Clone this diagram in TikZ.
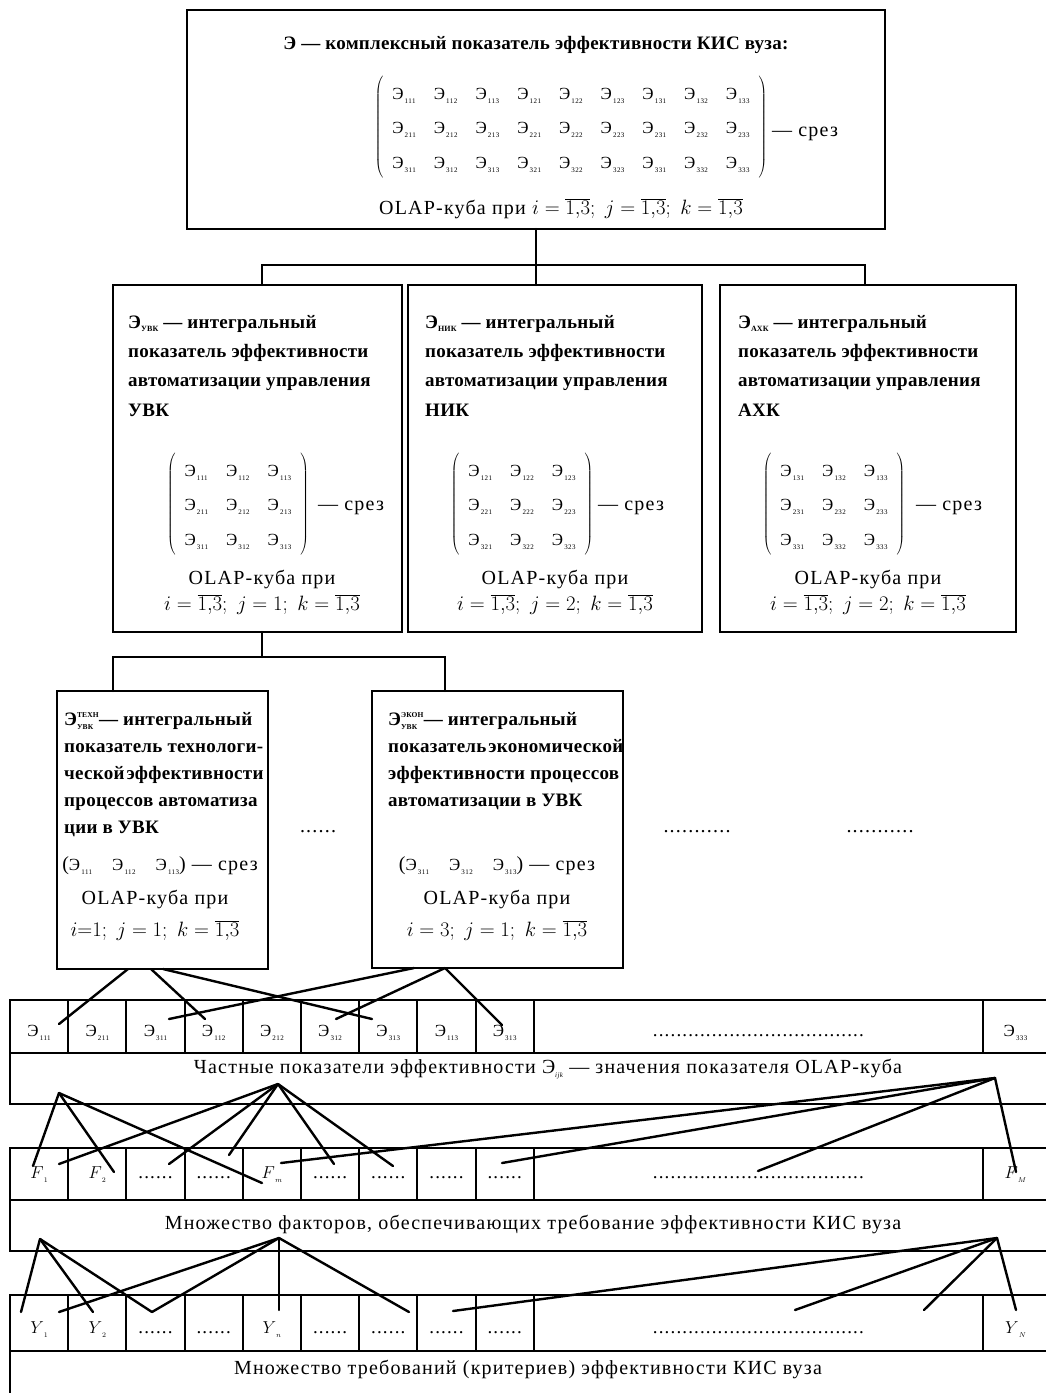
\documentclass[tikz,border=0pt]{standalone}
\usepackage{fontspec}
\setmainfont{Liberation Serif}[LetterSpace=6,BoldFeatures={LetterSpace=1.5}]
\newcommand\EE[1]{\mbox{\fontsize{17}{19}\selectfont Э\raisebox{-4pt}{\fontsize{7}{7}\selectfont\,#1}}}
\newcommand\Var[2]{$#1$\raisebox{-4pt}{\fontsize{7.5}{8}\selectfont$#2$}}
\newcommand\Bsub[1]{\raisebox{-3pt}{\fontsize{8}{8}\selectfont\bfseries #1}}
\newcommand\Bsupsub[2]{$\mbox{Э}^{\mbox{\fontsize{7.5}{8}\selectfont\bfseries #1}}_{\mbox{\fontsize{7.5}{8}\selectfont\bfseries #2}}$}
\newcommand\MatThree[9]{{\fontsize{17}{19}\selectfont\arraycolsep=9pt\renewcommand\arraystretch{1.8}$\left(\begin{array}{lll}\EE{#1}&\EE{#2}&\EE{#3}\\\EE{#4}&\EE{#5}&\EE{#6}\\\EE{#7}&\EE{#8}&\EE{#9}\end{array}\right)$}}
\newcommand\ovl{\overline{1{,}3}}
\begin{document}
\begin{tikzpicture}[x=1pt,y=-1pt,
  box/.style={draw,line width=2.4pt,inner sep=0pt,outer sep=0pt,anchor=north west},
  link/.style={line width=2.4pt,line cap=round},
  hd/.style={font=\fontsize{19}{29.3}\selectfont\bfseries,align=left,anchor=base west,inner sep=0pt},
  hds/.style={font=\fontsize{19}{27}\selectfont\bfseries,align=left,anchor=base west,inner sep=0pt},
  txt/.style={font=\fontsize{20}{26}\selectfont,inner sep=0pt},
  cellb/.style={draw,line width=2pt,inner sep=0pt,font=\fontsize{19}{21}\selectfont},
  ecell/.style={cellb,minimum height=53pt,text height=19pt,text depth=0pt},
  fcell/.style={cellb,minimum height=52pt,text height=12pt,text depth=4pt},
  ycell/.style={cellb,minimum height=56pt,text height=20pt,text depth=0pt},
  lrow/.style={draw,line width=2pt,inner sep=0pt,minimum width=1038pt},
]
\useasboundingbox (0,0) rectangle (1046,1393);
\clip (0,0) rectangle (1046,1393);

% ---------- boxes ----------
\node[box,minimum width=698pt,minimum height=219pt] (top) at (187,10) {};
\node[box,minimum width=289pt,minimum height=347pt] (uvk) at (113,285) {};
\node[box,minimum width=294pt,minimum height=347pt] (nik) at (408,285) {};
\node[box,minimum width=296pt,minimum height=347pt] (axk) at (720,285) {};
\node[box,minimum width=211pt,minimum height=278pt] (tech) at (57,691) {};
\node[box,minimum width=251pt,minimum height=277pt] (econ) at (372,691) {};

% ---------- top box ----------
\node[font=\fontsize{19}{22}\selectfont\bfseries,inner sep=0pt,anchor=base] (ttl) at (536,49) {Э — комплексный показатель эффективности КИС вуза:};
\node[inner sep=0pt] (mtop) at (571,127) {\fontsize{17}{19}\selectfont\arraycolsep=9pt\renewcommand\arraystretch{1.8}$\left(\begin{array}{*{9}{l}}
\EE{111}&\EE{112}&\EE{113}&\EE{121}&\EE{122}&\EE{123}&\EE{131}&\EE{132}&\EE{133}\\
\EE{211}&\EE{212}&\EE{213}&\EE{221}&\EE{222}&\EE{223}&\EE{231}&\EE{232}&\EE{233}\\
\EE{311}&\EE{312}&\EE{313}&\EE{321}&\EE{322}&\EE{323}&\EE{331}&\EE{332}&\EE{333}
\end{array}\right)$};
\node[txt,anchor=base west] (srez0) at (772,136) {— срез};
\node[txt,anchor=base] (olap0) at (561,214) {OLAP-куба при $i=\ovl;\ j=\ovl;\ k=\ovl$};

% ---------- УВК ----------
\node[hd] (uvkh) at (128,416) {Э\Bsub{УВК} — интегральный\\показатель эффективности\\автоматизации управления\\УВК};
\node[inner sep=0pt] (uvkm) at (238,504) {\MatThree{111}{112}{113}{211}{212}{213}{311}{312}{313}};
\node[txt,anchor=base west] (uvks) at (318,510) {— срез};
\node[txt,anchor=base] (uvko) at (262,584) {OLAP-куба при};
\node[txt,anchor=base] (uvkc) at (262,610) {$i=\ovl;\ j=1;\ k=\ovl$};

% ---------- НИК ----------
\node[hd] (nikh) at (425,416) {Э\Bsub{НИК} — интегральный\\показатель эффективности\\автоматизации управления\\НИК};
\node[inner sep=0pt] (nikm) at (522,504) {\MatThree{121}{122}{123}{221}{222}{223}{321}{322}{323}};
\node[txt,anchor=base west] (niks) at (598,510) {— срез};
\node[txt,anchor=base] (niko) at (555,584) {OLAP-куба при};
\node[txt,anchor=base] (nikc) at (555,610) {$i=\ovl;\ j=2;\ k=\ovl$};

% ---------- АХК ----------
\node[hd] (axkh) at (738,416) {Э\Bsub{АХК} — интегральный\\показатель эффективности\\автоматизации управления\\АХК};
\node[inner sep=0pt] (axkm) at (834,504) {\MatThree{131}{132}{133}{231}{232}{233}{331}{332}{333}};
\node[txt,anchor=base west] (axks) at (916,510) {— срез};
\node[txt,anchor=base] (axko) at (868,584) {OLAP-куба при};
\node[txt,anchor=base] (axkc) at (868,610) {$i=\ovl;\ j=2;\ k=\ovl$};

% ---------- техн ----------
\node[hds] (techh) at (64,833) {\Bsupsub{ТЕХН}{УВК}— интегральный\\показатель технологи-\\ческой\hspace{2pt}эффективности\\процессов автоматиза\\ции в УВК};
\node[txt,anchor=base] (techs) at (160,870) {(\EE{111}\quad\EE{112}\quad\EE{113}) — срез};
\node[txt,anchor=base] (techo) at (155,904) {OLAP-куба при};
\node[txt,anchor=base] (techc) at (155,936) {$i{=}1;\ j=1;\ k=\ovl$};

% ---------- экон ----------
\node[hds] (econh) at (388,806) {\Bsupsub{ЭКОН}{УВК}— интегральный\\показатель\hspace{2pt}экономической\\эффективности процессов\\автоматизации в УВК};
\node[txt,anchor=base] (econs) at (497,870) {(\EE{311}\quad\EE{312}\quad\EE{313}) — срез};
\node[txt,anchor=base] (econo) at (497,904) {OLAP-куба при};
\node[txt,anchor=base] (econc) at (497,936) {$i=3;\ j=1;\ k=\ovl$};

% ---------- dots between boxes ----------
\node[txt,anchor=base] (dots1) at (318,832) {......};
\node[txt,anchor=base] (dots2) at (697,832) {...........};
\node[txt,anchor=base] (dots3) at (880,832) {...........};

% ---------- row of Э ----------
\foreach \n/\t in {1/111,2/211,3/311,4/112,5/212,6/312,7/313,8/113,9/313}
  \node[ecell,minimum width=58.2pt] (e\n) at ({10+58.2*(\n-0.5)},1026.5) {\EE{\t}};
\node[ecell,minimum width=449.2pt] (ew) at (758.4,1026.5) {....................................};
\node[ecell,minimum width=65pt] (el) at (1015.5,1026.5) {\EE{333}};
\node[lrow,minimum height=51pt] (elab) at (529,1078.5) {};
\node[txt,anchor=base] (elabt) at (548,1073) {Частные показатели эффективности Э\raisebox{-4pt}{\fontsize{7}{7}\selectfont\itshape ijk} — значения показателя OLAP-куба};

% ---------- row of F ----------
\foreach \n/\t in {1/{\Var{F}{1}},2/{\Var{F}{2}},3/{......},4/{......},5/{\Var{F}{m}},6/{......},7/{......},8/{......},9/{......}}
  \node[fcell,minimum width=58.2pt] (f\n) at ({10+58.2*(\n-0.5)},1174) {\t};
\node[fcell,minimum width=449.2pt] (fw) at (758.4,1174) {....................................};
\node[fcell,minimum width=65pt] (fl) at (1015.5,1174) {\Var{F}{M}};
\node[lrow,minimum height=51pt] (flab) at (529,1225.5) {};
\node[txt,anchor=base] (flabt) at (533,1229) {Множество факторов, обеспечивающих требование эффективности КИС вуза};

% ---------- row of Y ----------
\foreach \n/\t in {1/{\Var{Y}{1}},2/{\Var{Y}{2}},3/{......},4/{......},5/{\Var{Y}{n}},6/{......},7/{......},8/{......},9/{......}}
  \node[ycell,minimum width=58.2pt] (y\n) at ({10+58.2*(\n-0.5)},1323) {\t};
\node[ycell,minimum width=449.2pt] (yw) at (758.4,1323) {....................................};
\node[ycell,minimum width=65pt] (yl) at (1015.5,1323) {\Var{Y}{N}};
\node[lrow,minimum height=49pt] (ylab) at (529,1375.5) {};
\node[txt,anchor=base] (ylabt) at (528,1374) {Множество требований (критериев) эффективности КИС вуза};

% ---------- tree connectors ----------
\coordinate (bus0) at (536,265);
\coordinate (uvkin) at (262,285);
\coordinate (nikin) at (536,285);
\coordinate (axkin) at (865,285);
\draw[link] (top.south) -- (nikin);
\draw[link] (uvkin) |- (bus0) -| (axkin);

\coordinate (uvkout) at (262,632);
\coordinate (bus1) at (262,657);
\coordinate (techin) at (113,691);
\coordinate (econin) at (445,691);
\draw[link] (uvkout) -- (bus1);
\draw[link] (techin) |- (bus1) -| (econin);

% ---------- boxes to Э cells ----------
\coordinate (t1) at (128,969); \coordinate (t2) at (151,969); \coordinate (t3) at (163,969);
\coordinate (c1) at (414,968); \coordinate (c2) at (445,968);
\coordinate (a1) at (59,1024); \coordinate (a4) at (205,1019); \coordinate (a7) at (372,1019);
\coordinate (a3) at (169,1019); \coordinate (a6) at (336,1019); \coordinate (a9) at (502,1025);
\draw[link] (t1) -- (a1);
\draw[link] (t2) -- (a4);
\draw[link] (t3) -- (a7);
\draw[link] (c1) -- (a3);
\draw[link] (c2) -- (a6);
\draw[link] (c2) -- (a9);

% ---------- Э label to F cells ----------
\coordinate (h1) at (59,1093);
\coordinate (h2) at (278,1084);
\coordinate (h3) at (995,1078);
\coordinate (fa) at (33,1166); \coordinate (fb) at (114,1172); \coordinate (fc) at (262,1183);
\coordinate (fd) at (59,1164); \coordinate (fe) at (169,1164); \coordinate (ff) at (229,1155);
\coordinate (fg) at (334,1164); \coordinate (fh) at (393,1166);
\coordinate (fi) at (281,1163); \coordinate (fj) at (502,1163); \coordinate (fk) at (758,1171); \coordinate (fm) at (1016,1172);
\foreach \p in {fa,fb,fc} \draw[link] (h1) -- (\p);
\foreach \p in {fd,fe,ff,fg,fh} \draw[link] (h2) -- (\p);
\foreach \p in {fi,fj,fk,fm} \draw[link] (h3) -- (\p);

% ---------- F label to Y cells ----------
\coordinate (g1) at (40,1239);
\coordinate (g2) at (279,1238);
\coordinate (g3) at (997,1238);
\coordinate (ya) at (21,1312); \coordinate (yb) at (93,1312); \coordinate (yc) at (152,1312);
\coordinate (yd) at (59,1312); \coordinate (ye) at (279,1310); \coordinate (yf) at (409,1312);
\coordinate (yg) at (453,1311); \coordinate (yh) at (795,1310); \coordinate (yi) at (924,1310); \coordinate (yj) at (1016,1310);
\foreach \p in {ya,yb,yc} \draw[link] (g1) -- (\p);
\foreach \p in {yd,yc,ye,yf} \draw[link] (g2) -- (\p);
\foreach \p in {yg,yh,yi,yj} \draw[link] (g3) -- (\p);
\end{tikzpicture}
\end{document}
